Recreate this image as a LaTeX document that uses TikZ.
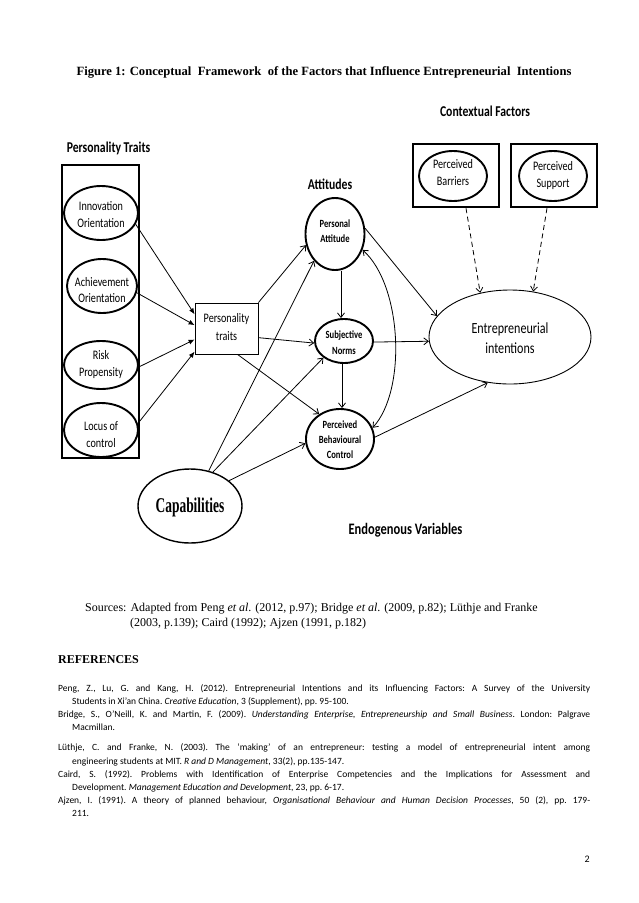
\documentclass[tikz,border=0pt]{standalone}
\usepackage{fontspec}
\usepackage{graphicx}
\setmainfont{Liberation Serif}
\newfontfamily\calib{Carlito}
\usetikzlibrary{shapes.geometric,arrows.meta,calc}
\newcommand\nw[1]{\scalebox{0.78}[1]{#1}}
\begin{document}
\begin{tikzpicture}[x=1pt,y=-1pt,
  tip/.tip={Straight Barb[length=4.5pt,width=7pt]},
  arr/.style={line width=0.8pt,-tip},
  dbl/.style={line width=0.8pt,tip-tip},
  farr/.style={line width=0.8pt,-{Latex[length=6pt,width=5pt]}},
  dasharr/.style={line width=0.8pt,dash pattern=on 5pt off 3.5pt,-tip},
  ell/.style={ellipse,draw,line width=1.9pt,inner sep=0pt},
  box/.style={draw,inner sep=0pt},
  lbl/.style={font=\calib\fontsize{13}{17}\selectfont,align=center,inner sep=0pt},
  slbl/.style={font=\calib\bfseries\fontsize{11}{15}\selectfont,align=center,inner sep=0pt},
  hdr/.style={font=\calib\bfseries\fontsize{15}{17}\selectfont,inner sep=0pt},
  src/.style={font=\fontsize{12}{14}\selectfont,anchor=base west,inner sep=0pt},
  ref/.style={font=\calib\fontsize{9.5}{13}\selectfont\frenchspacing,anchor=base west,inner sep=0pt}]
\fill[white] (0,0) rectangle (638,903);
\useasboundingbox (0,0) rectangle (638,903);

% title
\node[font=\bfseries\fontsize{12.6}{14}\selectfont,inner sep=0pt] (title) at (324,72) {Figure 1: Conceptual\ \ Framework\ \ of the Factors that Influence Entrepreneurial\ \ Intentions};

% headers
\node[hdr] (ptitle) at (108.5,148) {\nw{Personality Traits}};
\node[hdr] (ctx) at (485,111) {\nw{Contextual Factors}};
\node[hdr] (att) at (330,184) {\nw{Attitudes}};
\node[hdr,font=\calib\bfseries\fontsize{16}{18}\selectfont] (endo) at (405.5,530) {\nw{Endogenous Variables}};

% personality traits column
\node[box,line width=2pt,minimum width=77pt,minimum height=293pt] (ptbox) at (100.5,311.5) {};
\node[ell,minimum width=74pt,minimum height=54pt] (inn) at (101,213) {};
\node[lbl] (innT) at (101,214.5) {\nw{Innovation}\\\nw{Orientation}};
\node[ell,minimum width=70pt,minimum height=54pt] (ach) at (102,286) {};
\node[lbl,font=\calib\fontsize{13}{16}\selectfont] (achT) at (102,290) {\nw{Achievement}\\\nw{Orientation}};
\node[ell,minimum width=74pt,minimum height=48pt] (risk) at (101,365) {};
\node[lbl] (riskT) at (101,364.5) {\nw{Risk}\\\nw{Propensity}};
\node[ell,minimum width=74pt,minimum height=54pt] (loc) at (101,430) {};
\node[lbl] (locT) at (101,434.5) {\nw{Locus of}\\\nw{control}};

% personality traits box
\node[box,line width=0.8pt,minimum width=63pt,minimum height=51pt] (pt) at (226.5,328.5) {};
\node[lbl,font=\calib\fontsize{13}{18}\selectfont] (ptT) at (226.5,327) {\nw{Personality}\\\nw{traits}};

% attitudes
\node[ell,minimum width=59pt,minimum height=72pt] (pa) at (335,234) {};
\node[slbl] (paT) at (335,231.5) {\nw{Personal}\\\nw{Attitude}};
\node[ell,minimum width=58pt,minimum height=44pt] (sn) at (344,341) {};
\node[slbl,font=\calib\bfseries\fontsize{11}{16}\selectfont] (snT) at (344,343) {\nw{Subjective}\\\nw{Norms}};
\node[ell,minimum width=68pt,minimum height=60pt] (pbc) at (340,439) {};
\node[slbl] (pbcT) at (340,440) {\nw{Perceived}\\\nw{Behavioural}\\\nw{Control}};

% contextual factors
\node[box,line width=2.5pt,minimum width=86pt,minimum height=63pt] (barbox) at (456,175.5) {};
\node[ell,minimum width=68pt,minimum height=50pt] (bar) at (453,176) {};
\node[lbl] (barT) at (453,172.5) {\nw{Perceived}\\\nw{Barriers}};
\node[box,line width=2.5pt,minimum width=86pt,minimum height=63pt] (supbox) at (554,175.5) {};
\node[ell,minimum width=68pt,minimum height=50pt] (sup) at (553,176) {};
\node[lbl] (supT) at (553,175.5) {\nw{Perceived}\\\nw{Support}};

% entrepreneurial intentions
\node[ellipse,draw,line width=0.9pt,inner sep=0pt,minimum width=162pt,minimum height=94pt] (ei) at (510,337) {};
\node[lbl,font=\calib\fontsize{15.5}{20}\selectfont] (eiT) at (510,338) {\nw{Entrepreneurial}\\\nw{intentions}};

% capabilities
\node[ellipse,draw,line width=1.4pt,inner sep=0pt,minimum width=104pt,minimum height=74pt] (cap) at (190,506) {};
\node[inner sep=0pt,font=\bfseries\fontsize{21}{21}\selectfont] (capT) at (190,507) {\scalebox{0.64}[1]{Capabilities}};

% connectors
\draw[farr] (inn.-18) -- (pt.156.8);
\draw[farr] (ach.-11) -- (pt.174);
\draw[farr] (risk.-3) -- (pt.199.5);
\draw[farr] (loc.10) -- (pt.216);
\draw[arr] (pt.north east) -- (pa.201);
\draw[arr] (pt.-16.8) -- (sn.184);
\draw[arr] (pt.-67.6) -- (pbc.130);
\draw[arr] (cap.62.8) -- (pa.232);
\draw[arr] (cap.56) -- (sn.219);
\draw[arr] (cap.33) -- (pbc.187);
\draw[arr] ($(pa.south)+(6,0)$) -- ($(sn.north)+(-3,0)$);
\draw[arr] ($(sn.south)+(-2,0)$) -- ($(pbc.north)+(2,0)$);
\draw[dbl] (pa.-30) .. controls (402,285) and (407,390) .. (pbc.19);
\draw[arr] (pa.11) -- (ei.164);
\draw[arr] (sn.-2) -- (ei.183.5);
\draw[arr] (pbc.3) -- (ei.244);
\draw[dasharr] ($(barbox.south)+(10,0)$) -- (ei.124);
\draw[dasharr] ($(supbox.south)+(-7,0)$) -- (ei.63.4);

% sources
\node[src] (src1) at (85,611) {Sources: Adapted from Peng \textit{et al}. (2012, p.97); Bridge \textit{et al}. (2009, p.82); Lüthje and Franke};
\node[src] (src2) at (130,626) {(2003, p.139); Caird (1992); Ajzen (1991, p.182)};

% references
\node[src,font=\bfseries\fontsize{12}{14}\selectfont] (refhead) at (58,663) {REFERENCES};
\node[ref] (r1a) at (58,691) {\makebox[532pt][s]{Peng, Z., Lu, G. and Kang, H. (2012). Entrepreneurial Intentions and its Influencing Factors: A Survey of the University}};
\node[ref] (r1b) at (72,704) {Students in Xi’an China. \textit{Creative Education}, 3 (Supplement), pp. 95-100.};
\node[ref] (r2a) at (58,717) {\makebox[532pt][s]{Bridge, S., O’Neill, K. and Martin, F. (2009). \textit{Understanding Enterprise, Entrepreneurship and Small Business}. London: Palgrave}};
\node[ref] (r2b) at (72,730) {Macmillan.};
\node[ref] (r3a) at (58,750) {\makebox[532pt][s]{Lüthje, C. and Franke, N. (2003). The ‘making’ of an entrepreneur: testing a model of entrepreneurial intent among}};
\node[ref] (r3b) at (72,764) {engineering students at MIT. \textit{R and D Management}, 33(2), pp.135-147.};
\node[ref] (r4a) at (58,777) {\makebox[532pt][s]{Caird, S. (1992). Problems with Identification of Enterprise Competencies and the Implications for Assessment and}};
\node[ref] (r4b) at (72,790) {Development. \textit{Management Education and Development}, 23, pp. 6-17.};
\node[ref] (r5a) at (58,803) {\makebox[532pt][s]{Ajzen, I. (1991). A theory of planned behaviour, \textit{Organisational Behaviour and Human Decision Processes}, 50 (2), pp. 179-}};
\node[ref] (r5b) at (72,816) {211.};
\node[ref,anchor=base east,font=\calib\fontsize{10}{12}\selectfont] (pg) at (590,862) {2};
\end{tikzpicture}
\end{document}
